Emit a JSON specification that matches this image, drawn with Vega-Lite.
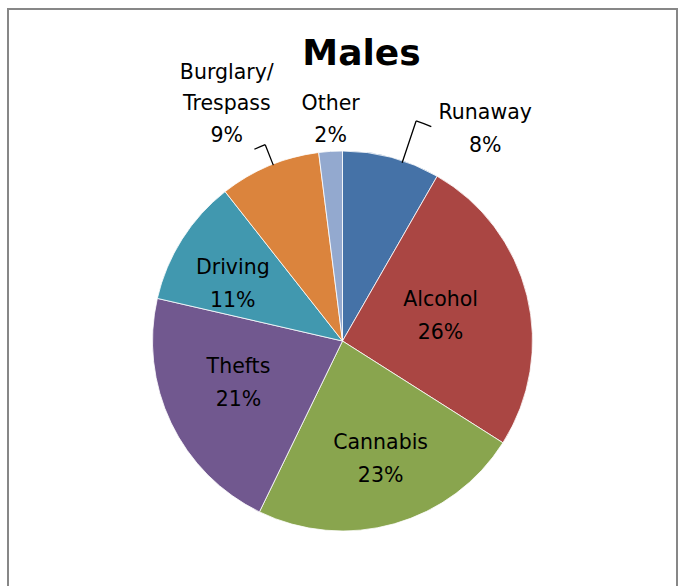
{
  "$schema": "https://vega.github.io/schema/vega-lite/v6.json",
  "width": 669,
  "height": 664,
  "padding": {"left": 8, "top": 9, "right": 7, "bottom": 0},
  "autosize": {"type": "pad"},
  "background": "white",
  "view": {"stroke": "#878787", "strokeWidth": 2},
  "title": {"text": "Males", "font": "DejaVu Sans", "fontSize": 36, "fontWeight": "bold", "color": "black", "anchor": "middle", "baseline": "alphabetic", "offset": -92, "dx": 19},
  "data": {"values": [
    {"category": "Runaway", "value": 8.3, "order": 1},
    {"category": "Alcohol", "value": 25.7, "order": 2},
    {"category": "Cannabis", "value": 23.2, "order": 3},
    {"category": "Thefts", "value": 21.4, "order": 4},
    {"category": "Driving", "value": 10.8, "order": 5},
    {"category": "Burglary/Trespass", "value": 8.6, "order": 6},
    {"category": "Other", "value": 2.0, "order": 7}
  ]},
  "transform": [
    {"window": [{"op": "sum", "field": "value", "as": "cum"}], "sort": [{"field": "order"}], "frame": [null, 0]},
    {"calculate": "datum.cum - datum.value", "as": "start"},
    {"calculate": "datum.cum - datum.value / 2", "as": "mid"},
    {"calculate": "replace(datum.category, '/', '/\\n') + '\\n' + format(datum.value, '.0f') + '%'", "as": "label"}
  ],
  "layer": [
    {
      "mark": {"type": "arc", "radius": 190, "stroke": "white", "strokeWidth": 0.8},
      "encoding": {
        "theta": {"field": "start", "type": "quantitative", "scale": {"domain": [0, 100]}},
        "theta2": {"field": "cum"},
        "color": {"field": "category", "type": "nominal", "legend": null,
          "scale": {"domain": ["Runaway", "Alcohol", "Cannabis", "Thefts", "Driving", "Burglary/Trespass", "Other"],
                    "range": ["#4572A7", "#AA4643", "#89A54E", "#71588F", "#4198AF", "#DB843D", "#93A9CF"]}}
      }
    },
    {
      "transform": [{"filter": "datum.category === 'Runaway'"}],
      "mark": {"type": "arc", "radius": 232, "radius2": 188, "thetaOffset": 0.0621, "theta2Offset": 0.0621, "filled": false, "stroke": "black", "strokeWidth": 1.3},
      "encoding": {
        "theta": {"field": "mid", "type": "quantitative", "scale": {"domain": [0, 100]}},
        "theta2": {"field": "mid"}
      }
    },
    {
      "transform": [{"filter": "datum.category === 'Runaway'"}],
      "mark": {"type": "arc", "radius": 232, "radius2": 232, "thetaOffset": 0.0621, "theta2Offset": 0.1319, "filled": false, "stroke": "black", "strokeWidth": 1.3},
      "encoding": {
        "theta": {"field": "mid", "type": "quantitative", "scale": {"domain": [0, 100]}},
        "theta2": {"field": "mid"}
      }
    },
    {
      "transform": [{"filter": "datum.category === 'Burglary/Trespass'"}],
      "mark": {"type": "arc", "radius": 211, "radius2": 189, "thetaOffset": 0.0209, "theta2Offset": 0.0209, "filled": false, "stroke": "black", "strokeWidth": 1.3},
      "encoding": {
        "theta": {"field": "mid", "type": "quantitative", "scale": {"domain": [0, 100]}},
        "theta2": {"field": "mid"}
      }
    },
    {
      "transform": [{"filter": "datum.category === 'Burglary/Trespass'"}],
      "mark": {"type": "arc", "radius": 211, "radius2": 211, "thetaOffset": -0.0349, "theta2Offset": 0.0209, "filled": false, "stroke": "black", "strokeWidth": 1.3},
      "encoding": {
        "theta": {"field": "mid", "type": "quantitative", "scale": {"domain": [0, 100]}},
        "theta2": {"field": "mid"}
      }
    },
    {
      "transform": [{"filter": "datum.category === 'Runaway'"}],
      "mark": {"type": "text", "radius": 220, "dx": 86, "dy": -15, "font": "DejaVu Sans", "fontSize": 20.5, "lineHeight": 33, "lineBreak": "\n", "align": "center", "baseline": "middle", "color": "black"},
      "encoding": {"theta": {"field": "mid", "type": "quantitative", "stack": null, "scale": {"domain": [0, 100]}}, "text": {"field": "label"}}
    },
    {
      "transform": [{"filter": "datum.category === 'Alcohol'"}],
      "mark": {"type": "text", "radius": 101, "dy": -17, "font": "DejaVu Sans", "fontSize": 20.5, "lineHeight": 33, "lineBreak": "\n", "align": "center", "baseline": "middle", "color": "black"},
      "encoding": {"theta": {"field": "mid", "type": "quantitative", "stack": null, "scale": {"domain": [0, 100]}}, "text": {"field": "label"}}
    },
    {
      "transform": [{"filter": "datum.category === 'Cannabis'"}],
      "mark": {"type": "text", "radius": 125, "dx": 4, "dy": -18, "font": "DejaVu Sans", "fontSize": 20.5, "lineHeight": 33, "lineBreak": "\n", "align": "center", "baseline": "middle", "color": "black"},
      "encoding": {"theta": {"field": "mid", "type": "quantitative", "stack": null, "scale": {"domain": [0, 100]}}, "text": {"field": "label"}}
    },
    {
      "transform": [{"filter": "datum.category === 'Thefts'"}],
      "mark": {"type": "text", "radius": 112, "dx": -3, "dy": -22, "font": "DejaVu Sans", "fontSize": 20.5, "lineHeight": 33, "lineBreak": "\n", "align": "center", "baseline": "middle", "color": "black"},
      "encoding": {"theta": {"field": "mid", "type": "quantitative", "stack": null, "scale": {"domain": [0, 100]}}, "text": {"field": "label"}}
    },
    {
      "transform": [{"filter": "datum.category === 'Driving'"}],
      "mark": {"type": "text", "radius": 124, "dx": -5, "dy": -7, "font": "DejaVu Sans", "fontSize": 20.5, "lineHeight": 33, "lineBreak": "\n", "align": "center", "baseline": "middle", "color": "black"},
      "encoding": {"theta": {"field": "mid", "type": "quantitative", "stack": null, "scale": {"domain": [0, 100]}}, "text": {"field": "label"}}
    },
    {
      "transform": [{"filter": "datum.category === 'Burglary/Trespass'"}],
      "mark": {"type": "text", "radius": 256, "dx": -17, "dy": -32, "font": "DejaVu Sans", "fontSize": 20.5, "lineHeight": 31.5, "lineBreak": "\n", "align": "center", "baseline": "middle", "color": "black"},
      "encoding": {"theta": {"field": "mid", "type": "quantitative", "stack": null, "scale": {"domain": [0, 100]}}, "text": {"field": "label"}}
    },
    {
      "transform": [{"filter": "datum.category === 'Other'"}],
      "mark": {"type": "text", "radius": 221, "dx": 2, "dy": -16, "font": "DejaVu Sans", "fontSize": 20.5, "lineHeight": 32, "lineBreak": "\n", "align": "center", "baseline": "middle", "color": "black"},
      "encoding": {"theta": {"field": "mid", "type": "quantitative", "stack": null, "scale": {"domain": [0, 100]}}, "text": {"field": "label"}}
    }
  ]
}
